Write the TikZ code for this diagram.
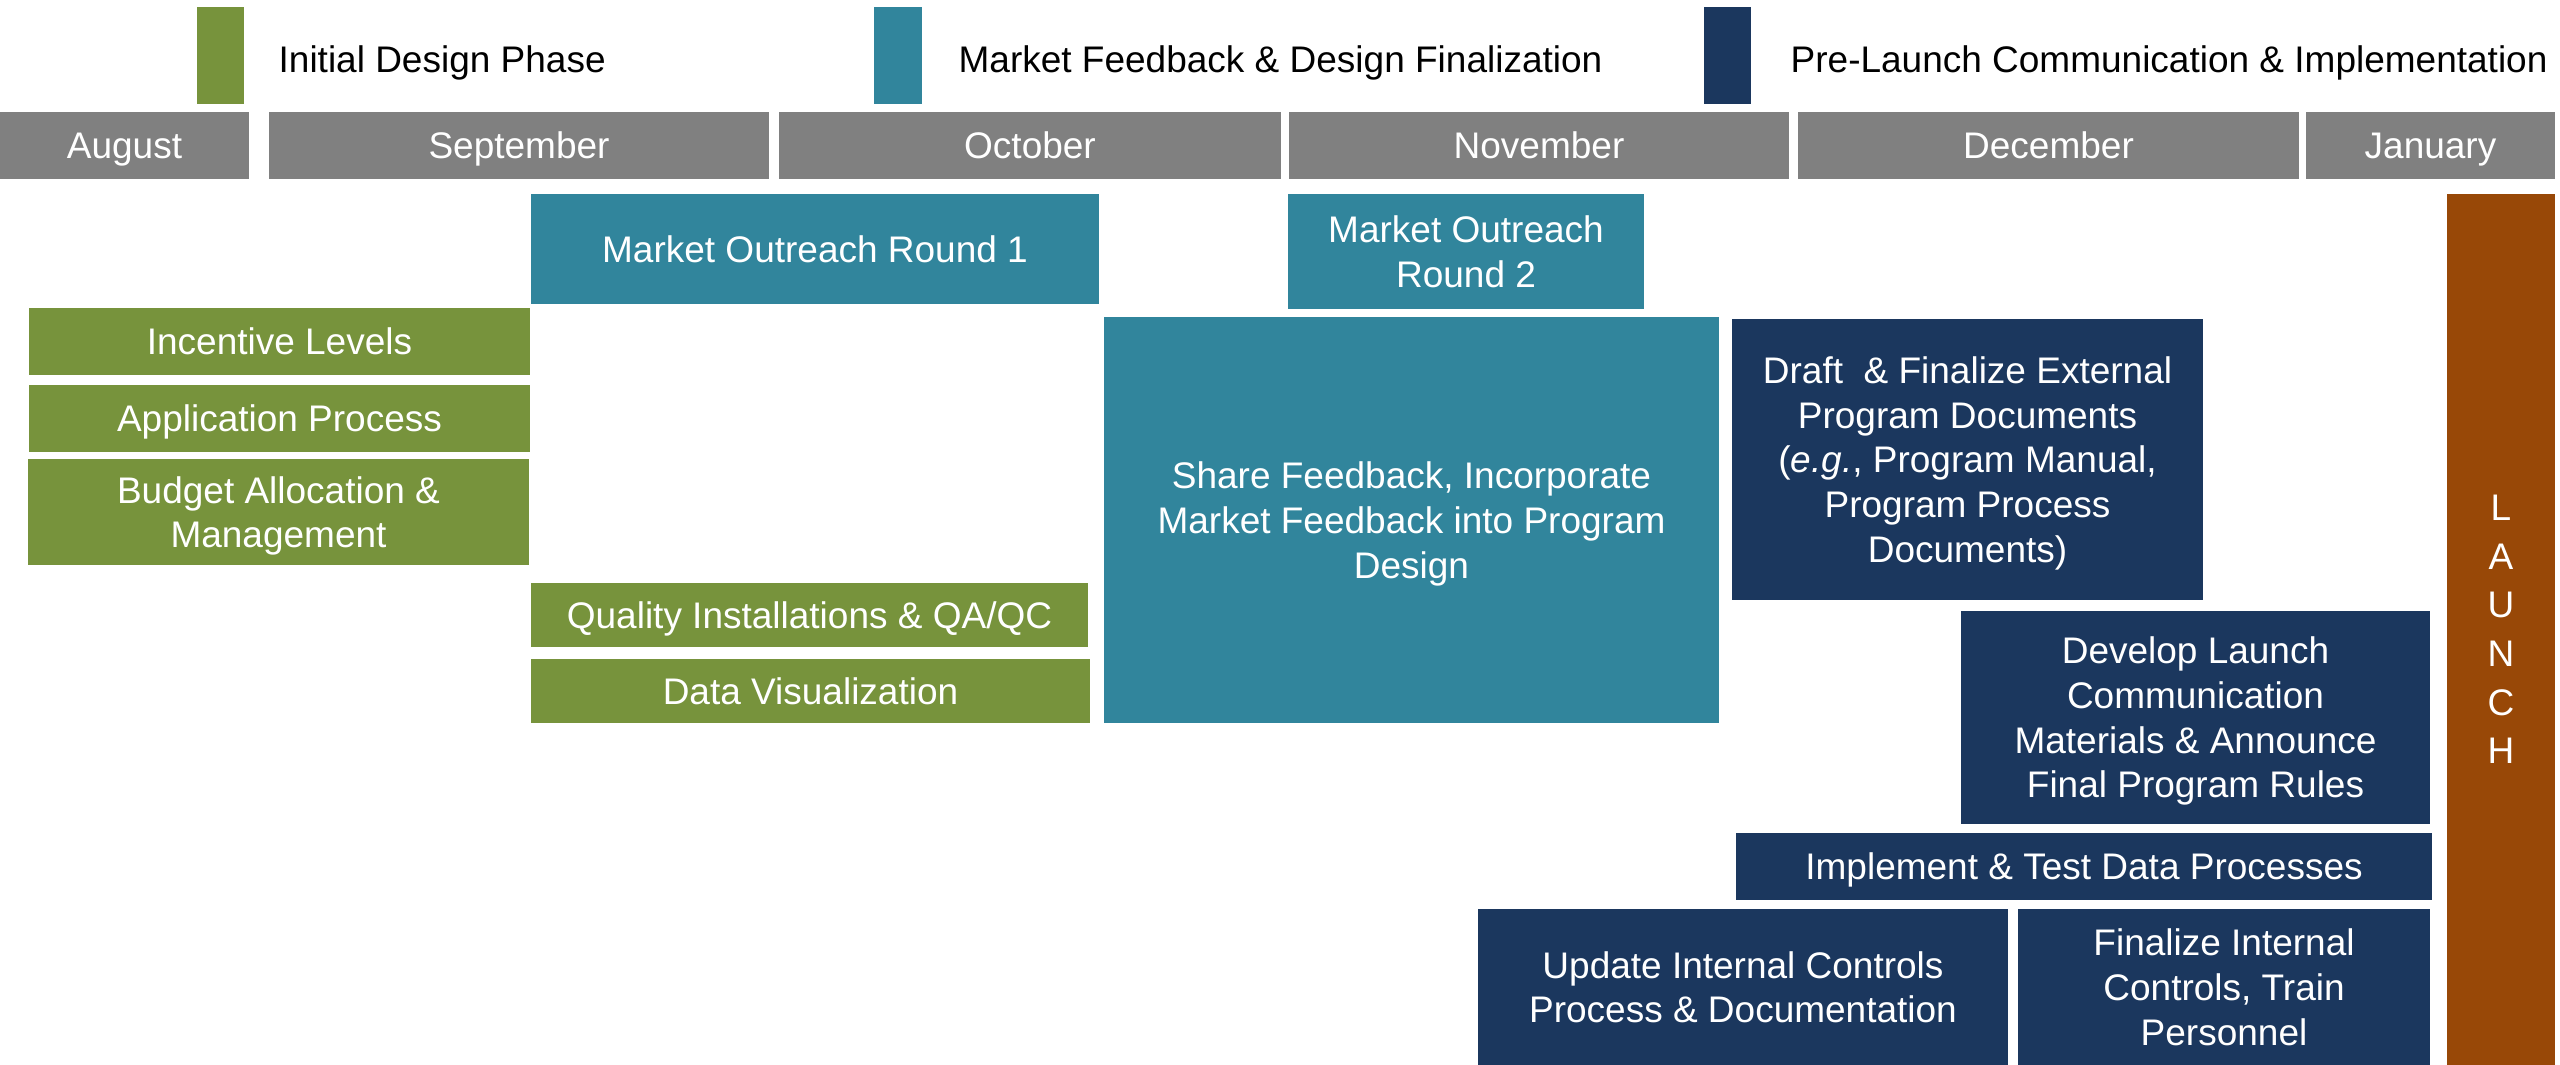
\documentclass[tikz,border=0pt]{standalone}
\usepackage{fontspec}
\setmainfont{Liberation Sans}
\definecolor{cgreen}{HTML}{77933C}
\definecolor{cteal}{HTML}{31859C}
\definecolor{cnavy}{HTML}{1B375E}
\definecolor{cbrown}{HTML}{984807}
\definecolor{cgray}{HTML}{808080}
% name, x1, y1, x2, y2 (pixels), style, text
\newcommand\pbox[7]{%
  \node[#6, minimum width={(#4-#2)*0.3pt}, minimum height={(#5-#3)*0.3pt}]
    (#1) at ({(#2+#4)/2},{(#3+#5)/2}) {#7};}
\tikzset{
  basebox/.style={rectangle, inner sep=0pt, outer sep=0pt, draw=none,
    text=white, align=center, text depth=-0.12em,
    font=\fontsize{11.1}{13.4}\selectfont},
  gbox/.style={basebox, fill=cgreen},
  tbox/.style={basebox, fill=cteal},
  nbox/.style={basebox, fill=cnavy},
  mbox/.style={basebox, fill=cgray, text depth=-0.15em},
  lbox/.style={basebox, fill=cbrown, text depth=-0.24em,
    font=\fontsize{11.1}{14.6}\selectfont},
  legtext/.style={anchor=base west, inner sep=0pt, text=black,
    font=\fontsize{11.1}{13.4}\selectfont},
}
\begin{document}
\begin{tikzpicture}[x=0.3pt,y=-0.3pt]
\useasboundingbox (0,0) rectangle (2560,1065);
% legend
\pbox{lgA}{197}{7}{244}{104}{gbox}{}
\pbox{lgB}{874}{7}{922}{104}{tbox}{}
\pbox{lgC}{1704}{7}{1751}{104}{nbox}{}
\node[legtext] (ltA) at (278,72) {Initial Design Phase};
\node[legtext] (ltB) at (958,72) {Market Feedback \& Design Finalization};
\node[legtext] (ltC) at (1790,72) {Pre-Launch Communication \& Implementation};
% months
\pbox{aug}{0}{112}{249}{179}{mbox}{August}
\pbox{sep}{269}{112}{769}{179}{mbox}{September}
\pbox{oct}{779}{112}{1281}{179}{mbox}{October}
\pbox{nov}{1289}{112}{1789}{179}{mbox}{November}
\pbox{dec}{1798}{112}{2299}{179}{mbox}{December}
\pbox{jan}{2306}{112}{2555}{179}{mbox}{January}
% initial design
\pbox{inc}{29}{308}{530}{375}{gbox}{Incentive Levels}
\pbox{app}{29}{385}{530}{452}{gbox}{Application Process}
\pbox{bud}{28}{459}{529}{565}{gbox}{Budget Allocation \&\\Management}
\pbox{qua}{531}{583}{1088}{647}{gbox}{Quality Installations \& QA/QC}
\pbox{dat}{531}{659}{1090}{723}{gbox}{Data Visualization}
% market feedback
\pbox{mo1}{531}{194}{1099}{304}{tbox}{Market Outreach Round 1}
\pbox{mo2}{1288}{194}{1644}{309}{tbox}{Market Outreach\\Round 2}
\pbox{shf}{1104}{317}{1719}{723}{tbox}{Share Feedback, Incorporate\\Market Feedback into Program\\Design}
% pre-launch
\pbox{dft}{1732}{319}{2203}{600}{nbox}{Draft\ \ \& Finalize External\\Program Documents\\(\textit{e.g.}, Program Manual,\\Program Process\\Documents)}
\pbox{dev}{1961}{611}{2430}{824}{nbox}{Develop Launch\\Communication\\Materials \& Announce\\Final Program Rules}
\pbox{imp}{1736}{833}{2432}{900}{nbox}{Implement \& Test Data Processes}
\pbox{upd}{1478}{909}{2008}{1065}{nbox}{Update Internal Controls\\Process \& Documentation}
\pbox{fin}{2018}{909}{2430}{1065}{nbox}{Finalize Internal\\Controls, Train\\Personnel}
% launch
\pbox{lau}{2447}{194}{2555}{1065}{lbox}{L\\A\\U\\N\\C\\H}
\end{tikzpicture}
\end{document}
